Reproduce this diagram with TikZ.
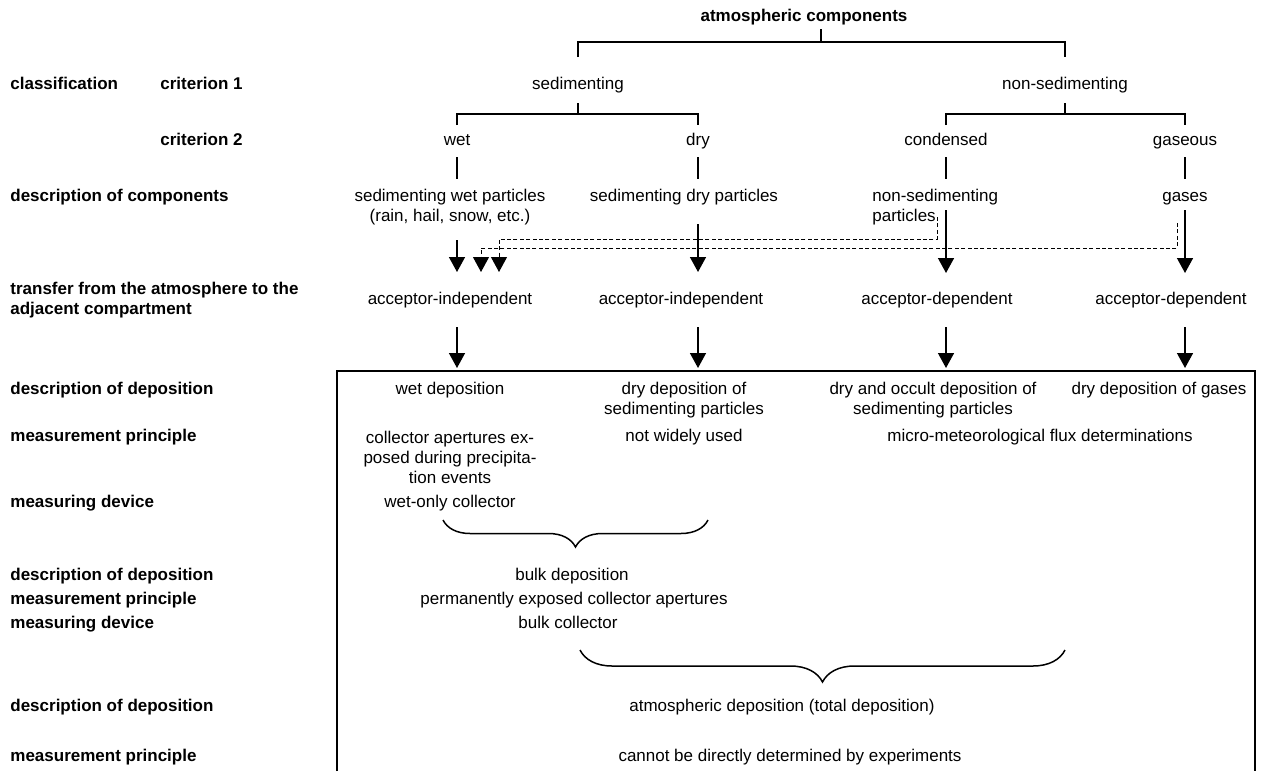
\documentclass[tikz,border=0pt]{standalone}
\usepackage{fontspec}
\setmainfont{Liberation Sans}
\usetikzlibrary{arrows.meta,decorations.pathreplacing}

\begin{document}
\begin{tikzpicture}[x=0.5pt, y=-0.5pt,
	font=\fontsize{8.5}{10}\selectfont,
	every node/.style={inner sep=0pt, align=center, text height=6.3pt, text depth=1.8pt},
	multi/.style={text height={}, text depth={}},
	rowlbl/.style={anchor=west, align=left, font=\fontsize{8.5}{10}\selectfont\bfseries},
	tree/.style={line width=0.75pt},
	flow/.style={line width=0.75pt, -{Triangle[width=8pt,length=7.5pt]}},
	dashflow/.style={line width=0.5pt, dash pattern=on 2pt off 1.2pt, -{Triangle[width=8pt,length=7.5pt]}},
	brc/.style={line width=0.75pt, decorate, decoration={brace, mirror, amplitude=#1}}]
	\useasboundingbox (0,0) rectangle (1268,771);

	% Row labels
	\node[rowlbl] (cls) at (10,85) {classification};
	\node[rowlbl] (crit1) at (160,85) {criterion 1};
	\node[rowlbl] (crit2) at (160,141) {criterion 2};
	\node[rowlbl] (lcomp) at (10,197) {description of components};
	\node[rowlbl, multi] (ltrans) at (10,300) {transfer from the atmosphere to the\\adjacent compartment};
	\node[rowlbl] (ldep1) at (10,390) {description of deposition};
	\node[rowlbl] (lmp1) at (10,437) {measurement principle};
	\node[rowlbl] (ldev1) at (10,503) {measuring device};
	\node[rowlbl] (ldep2) at (10,576) {description of deposition};
	\node[rowlbl] (lmp2) at (10,600) {measurement principle};
	\node[rowlbl] (ldev2) at (10,624) {measuring device};
	\node[rowlbl] (ldep3) at (10,707) {description of deposition};
	\node[rowlbl] (lmp3) at (10,757) {measurement principle};

	% Classification tree
	\node (title) at (804,17) {\bfseries atmospheric components};
	\node (sed) at (578,85) {sedimenting};
	\node (nonsed) at (1065,85) {non-sedimenting};
	\node (wet) at (457,141) {wet};
	\node (dry) at (698,141) {dry};
	\node (cond) at (946,141) {condensed};
	\node (gas) at (1185,141) {gaseous};

	\draw[tree] (821,29) -- (821,42);
	\draw[tree] (sed |- 0,57) |- (nonsed |- 0,42) -- (nonsed |- 0,57);
	\draw[tree] (sed |- 0,103) -- (sed |- 0,114);
	\draw[tree] (nonsed |- 0,103) -- (nonsed |- 0,114);
	\draw[tree] (wet |- 0,125) |- (dry |- 0,114) -- (dry |- 0,125);
	\draw[tree] (cond |- 0,125) |- (gas |- 0,114) -- (gas |- 0,125);
	\foreach \n in {wet,dry,cond,gas}
		\draw[tree] (\n |- 0,157) -- (\n |- 0,179);

	% Components
	\node[multi] (wetp) at (450,207) {sedimenting wet particles\\(rain, hail, snow, etc.)};
	\node (dryp) at (684,197) {sedimenting dry particles};
	\node[multi, anchor=west, align=left] (nsp) at (872,207) {non-sedimenting\\particles};
	\node (gases) at (1185,197) {gases};

	\draw[flow] (wet |- 0,240) -- (wet |- 0,272);
	\draw[flow] (dry |- 0,224) -- (dry |- 0,272);
	\draw[flow] (cond |- 0,210) -- (cond |- 0,273);
	\draw[flow] (gas |- 0,210) -- (gas |- 0,273);
	\draw[dashflow] (937,217) -- (937,239) -| (499,272);
	\draw[dashflow] (1177,223) -- (1177,248) -| (481,272);

	% Transfer
	\node (acc1) at (450,300) {acceptor-independent};
	\node (acc2) at (681,300) {acceptor-independent};
	\node (acc3) at (937,300) {acceptor-dependent};
	\node (acc4) at (1171,300) {acceptor-dependent};
	\foreach \n in {wet,dry,cond,gas}
		\draw[flow] (\n |- 0,327) -- (\n |- 0,368);

	% Deposition box
	\draw[line width=1pt] (337,771) |- (1255,371) -- (1255,771);

	\node (dep1) at (450,390) {wet deposition};
	\node[multi] (dep2) at (684,400) {dry deposition of\\sedimenting particles};
	\node[multi] (dep3) at (933,400) {dry and occult deposition of\\sedimenting particles};
	\node (dep4) at (1159,390) {dry deposition of gases};
	\node[multi] (mp1) at (450,457) {collector apertures ex-\\posed during precipita-\\tion events};
	\node (mp2) at (684,437) {not widely used};
	\node (mp3) at (1040,437) {micro-meteorological flux determinations};
	\node (dev1) at (450,503) {wet-only collector};

	% Bulk
	\draw[brc=13.5pt] (443,520) -- (708,520);
	\node (bulkdep) at (572,576) {bulk deposition};
	\node (bulkmp) at (574,600) {permanently exposed collector apertures};
	\node (bulkdev) at (568,624) {bulk collector};

	% Total
	\draw[brc=16pt] (580,650) -- (1065,650);
	\node (totdep) at (782,707) {atmospheric deposition (total deposition)};
	\node (totmp) at (790,757) {cannot be directly determined by experiments};
\end{tikzpicture}
\end{document}
